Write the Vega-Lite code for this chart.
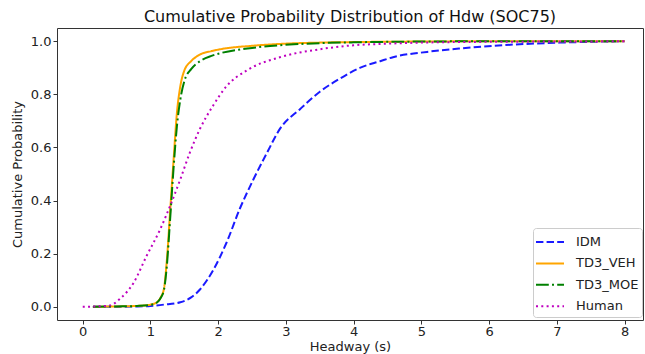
{
  "$schema": "https://vega.github.io/schema/vega-lite/v6.json",
  "width": 586,
  "height": 292,
  "autosize": {"type": "none"},
  "padding": {"left": 57, "top": 28, "right": 2, "bottom": 34},
  "background": "white",
  "title": {"text": "Cumulative Probability Distribution of Hdw (SOC75)", "fontSize": 16, "font": "DejaVu Sans", "fontWeight": "normal", "color": "#111", "anchor": "middle", "offset": 3},
  "data": {"values": [
    {"s": "IDM", "x": 0.15, "y": 0}, {"s": "IDM", "x": 0.5, "y": 0}, {"s": "IDM", "x": 0.8, "y": 0.001}, {"s": "IDM", "x": 1.0, "y": 0.003}, {"s": "IDM", "x": 1.2, "y": 0.008}, {"s": "IDM", "x": 1.44, "y": 0.017}, {"s": "IDM", "x": 1.6, "y": 0.035}, {"s": "IDM", "x": 1.73, "y": 0.065}, {"s": "IDM", "x": 1.93, "y": 0.14}, {"s": "IDM", "x": 2.12, "y": 0.24}, {"s": "IDM", "x": 2.32, "y": 0.37}, {"s": "IDM", "x": 2.52, "y": 0.48}, {"s": "IDM", "x": 2.72, "y": 0.58}, {"s": "IDM", "x": 2.91, "y": 0.67}, {"s": "IDM", "x": 3.21, "y": 0.745}, {"s": "IDM", "x": 3.5, "y": 0.81}, {"s": "IDM", "x": 3.8, "y": 0.86}, {"s": "IDM", "x": 4.09, "y": 0.9}, {"s": "IDM", "x": 4.39, "y": 0.925}, {"s": "IDM", "x": 4.58, "y": 0.94}, {"s": "IDM", "x": 5.08, "y": 0.96}, {"s": "IDM", "x": 5.57, "y": 0.973}, {"s": "IDM", "x": 6.06, "y": 0.983}, {"s": "IDM", "x": 6.55, "y": 0.99}, {"s": "IDM", "x": 7.05, "y": 0.995}, {"s": "IDM", "x": 7.5, "y": 0.998}, {"s": "IDM", "x": 8.0, "y": 1.0},
    {"s": "TD3_VEH", "x": 0.15, "y": 0}, {"s": "TD3_VEH", "x": 0.5, "y": 0.001}, {"s": "TD3_VEH", "x": 0.8, "y": 0.003}, {"s": "TD3_VEH", "x": 1.0, "y": 0.008}, {"s": "TD3_VEH", "x": 1.1, "y": 0.018}, {"s": "TD3_VEH", "x": 1.15, "y": 0.035}, {"s": "TD3_VEH", "x": 1.2, "y": 0.07}, {"s": "TD3_VEH", "x": 1.24, "y": 0.17}, {"s": "TD3_VEH", "x": 1.29, "y": 0.36}, {"s": "TD3_VEH", "x": 1.34, "y": 0.55}, {"s": "TD3_VEH", "x": 1.39, "y": 0.73}, {"s": "TD3_VEH", "x": 1.44, "y": 0.83}, {"s": "TD3_VEH", "x": 1.5, "y": 0.89}, {"s": "TD3_VEH", "x": 1.6, "y": 0.925}, {"s": "TD3_VEH", "x": 1.73, "y": 0.95}, {"s": "TD3_VEH", "x": 1.9, "y": 0.963}, {"s": "TD3_VEH", "x": 2.03, "y": 0.97}, {"s": "TD3_VEH", "x": 2.5, "y": 0.983}, {"s": "TD3_VEH", "x": 2.91, "y": 0.99}, {"s": "TD3_VEH", "x": 3.5, "y": 0.995}, {"s": "TD3_VEH", "x": 4.0, "y": 0.997}, {"s": "TD3_VEH", "x": 5.0, "y": 0.999}, {"s": "TD3_VEH", "x": 6.0, "y": 1.0}, {"s": "TD3_VEH", "x": 8.0, "y": 1.0},
    {"s": "TD3_MOE", "x": 0.15, "y": 0}, {"s": "TD3_MOE", "x": 0.5, "y": 0.001}, {"s": "TD3_MOE", "x": 0.8, "y": 0.003}, {"s": "TD3_MOE", "x": 1.0, "y": 0.007}, {"s": "TD3_MOE", "x": 1.1, "y": 0.017}, {"s": "TD3_MOE", "x": 1.15, "y": 0.033}, {"s": "TD3_MOE", "x": 1.2, "y": 0.065}, {"s": "TD3_MOE", "x": 1.24, "y": 0.15}, {"s": "TD3_MOE", "x": 1.29, "y": 0.33}, {"s": "TD3_MOE", "x": 1.34, "y": 0.52}, {"s": "TD3_MOE", "x": 1.39, "y": 0.68}, {"s": "TD3_MOE", "x": 1.44, "y": 0.78}, {"s": "TD3_MOE", "x": 1.5, "y": 0.85}, {"s": "TD3_MOE", "x": 1.6, "y": 0.895}, {"s": "TD3_MOE", "x": 1.73, "y": 0.925}, {"s": "TD3_MOE", "x": 1.9, "y": 0.945}, {"s": "TD3_MOE", "x": 2.03, "y": 0.955}, {"s": "TD3_MOE", "x": 2.5, "y": 0.975}, {"s": "TD3_MOE", "x": 2.91, "y": 0.985}, {"s": "TD3_MOE", "x": 3.5, "y": 0.993}, {"s": "TD3_MOE", "x": 4.0, "y": 0.996}, {"s": "TD3_MOE", "x": 5.0, "y": 0.999}, {"s": "TD3_MOE", "x": 6.0, "y": 1.0}, {"s": "TD3_MOE", "x": 8.0, "y": 1.0},
    {"s": "Human", "x": 0.0, "y": 0}, {"s": "Human", "x": 0.2, "y": 0.001}, {"s": "Human", "x": 0.4, "y": 0.005}, {"s": "Human", "x": 0.55, "y": 0.03}, {"s": "Human", "x": 0.75, "y": 0.09}, {"s": "Human", "x": 0.94, "y": 0.19}, {"s": "Human", "x": 1.14, "y": 0.29}, {"s": "Human", "x": 1.29, "y": 0.38}, {"s": "Human", "x": 1.44, "y": 0.48}, {"s": "Human", "x": 1.58, "y": 0.58}, {"s": "Human", "x": 1.73, "y": 0.67}, {"s": "Human", "x": 1.93, "y": 0.76}, {"s": "Human", "x": 2.12, "y": 0.83}, {"s": "Human", "x": 2.42, "y": 0.89}, {"s": "Human", "x": 2.91, "y": 0.94}, {"s": "Human", "x": 3.5, "y": 0.97}, {"s": "Human", "x": 4.0, "y": 0.985}, {"s": "Human", "x": 4.4, "y": 0.99}, {"s": "Human", "x": 5.0, "y": 0.995}, {"s": "Human", "x": 6.0, "y": 0.998}, {"s": "Human", "x": 7.0, "y": 0.999}, {"s": "Human", "x": 8.0, "y": 1.0}
  ]},
  "mark": {"type": "line", "interpolate": "monotone", "strokeWidth": 2},
  "encoding": {
    "x": {"field": "x", "type": "quantitative", "scale": {"domain": [-0.38, 8.27], "nice": false, "zero": false},
      "axis": {"values": [0, 1, 2, 3, 4, 5, 6, 7, 8], "format": "d", "title": "Headway (s)", "labelFlush": false, "labelPadding": 1, "titleY": 26.5, "titleBaseline": "middle"}},
    "y": {"field": "y", "type": "quantitative", "scale": {"domain": [-0.05, 1.05], "nice": false, "zero": false},
      "axis": {"values": [0, 0.2, 0.4, 0.6, 0.8, 1.0], "format": ".1f", "title": "Cumulative Probability", "labelFlush": false}},
    "color": {"field": "s", "type": "nominal", "sort": ["IDM", "TD3_VEH", "TD3_MOE", "Human"],
      "scale": {"domain": ["IDM", "TD3_VEH", "TD3_MOE", "Human"], "range": ["#1a1aff", "#ffa500", "#008000", "#bf00bf"]},
      "legend": {"title": null}},
    "strokeDash": {"field": "s", "type": "nominal", "sort": ["IDM", "TD3_VEH", "TD3_MOE", "Human"],
      "scale": {"domain": ["IDM", "TD3_VEH", "TD3_MOE", "Human"], "range": [[7.4, 3.2], [1, 0], [12.8, 3.2, 2, 3.2], [2, 3.3]]},
      "legend": {"title": null}},
    "order": {"field": "x", "type": "quantitative"}
  },
  "config": {
    "font": "DejaVu Sans",
    "view": {"stroke": "#333", "strokeWidth": 1},
    "axis": {"grid": false, "domain": false, "tickColor": "#333", "tickSize": 4, "labelFontSize": 13, "labelColor": "#222", "titleFontSize": 13, "titleColor": "#222", "titleFontWeight": "normal", "labelPadding": 2},
    "axisY": {"titlePadding": 6},
    "legend": {"orient": "none", "legendX": 476, "legendY": 200, "symbolType": "M-1.4,0H1.4", "symbolSize": 400, "symbolOffset": 3, "symbolStrokeWidth": 2, "labelFontSize": 13, "labelColor": "#222", "rowPadding": 3.4, "padding": 3, "strokeColor": "#ccc", "fillColor": "white", "cornerRadius": 3, "labelOffset": 15}
  }
}
